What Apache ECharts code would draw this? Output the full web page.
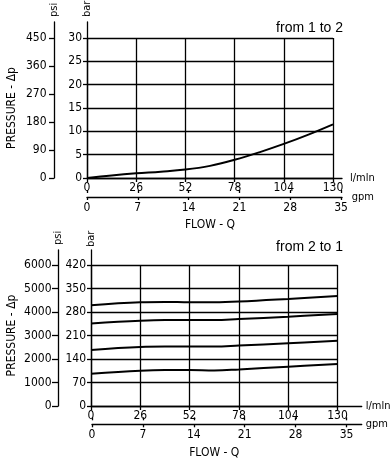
<!DOCTYPE html>
<html><head><meta charset="utf-8">
<script src="https://cdn.jsdelivr.net/npm/echarts@6/dist/echarts.min.js"></script>
<style>html,body{margin:0;padding:0;background:#fff}#c{width:391px;height:463px}</style>
</head><body><div id="c"></div>
<script>
// ---- tick labels ----
const flowTicks = [0, 26, 52, 78, 104, 130];      // l/min
const gpmTicks = [0, 7, 14, 21, 28, 35];          // gpm
const barTicksTop = [0, 5, 10, 15, 20, 25, 30];
const psiTicksTop = [0, 90, 180, 270, 360, 450];
const barTicksBot = [0, 70, 140, 210, 280, 350, 420];
const psiTicksBot = [0, 1000, 2000, 3000, 4000, 5000, 6000];

// ---- data: from 1 to 2 ----
const flowTop = [0, 13, 26, 39, 52, 65, 78, 91, 104, 117, 130];
const dpTop = [0, 0.55, 1.0, 1.35, 1.8, 2.6, 3.9, 5.5, 7.3, 9.3, 11.5];

// ---- data: from 2 to 1 ----
const flowBot = [0, 26, 39, 52, 65, 78, 104, 130];
const dpBot1 = [300, 309, 310, 309, 309, 311, 319, 328];
const dpBot2 = [246, 254, 256, 256, 256, 259, 266, 274];
const dpBot3 = [167, 176, 177, 177, 177, 180, 187, 194.5];
const dpBot4 = [96, 105, 107, 107, 106, 109, 117, 125];

const NARROW = '"Liberation Sans Narrow","DejaVu Sans Condensed","Arial Narrow",sans-serif';
const REG = '"Liberation Sans",Arial,sans-serif';
const BLACK = '#000';
const txt = {color: BLACK, fontSize: 12, fontFamily: NARROW};
const txtS = {color: BLACK, fontSize: 11, fontFamily: NARROW};
const plain = v => String(v);
const line = {show: true, lineStyle: {color: BLACK, width: 1.3}};
const split = {show: true, lineStyle: {color: BLACK, width: 1.3}};
const off = {show: false};

function plotX(nameGap) {
  return {type: 'value', min: 0, max: 130, interval: 26,
    axisLine: off, axisTick: off, axisLabel: off, splitLine: split,
    name: 'FLOW - Q', nameLocation: 'middle', nameGap: nameGap, nameTextStyle: txt};
}
function plotY(max, interval, nameGap) {
  return {type: 'value', min: 0, max: max, interval: interval,
    axisLine: off, axisTick: off, axisLabel: off, splitLine: split,
    name: 'PRESSURE - \u0394p', nameLocation: 'middle', nameGap: nameGap, nameTextStyle: txt};
}
function extX(gridIndex, max, nameGap) {
  return {type: 'value', gridIndex, min: 0, max,
    axisLine: line,
    axisTick: {show: true, length: 4, customValues: flowTicks, lineStyle: {color: BLACK, width: 1.3}},
    axisLabel: {show: true, customValues: flowTicks, margin: 4, formatter: plain, ...txt},
    splitLine: off, name: 'l/mln', nameGap, nameTextStyle: txtS};
}
function gpmX(gridIndex, max, nameGap) {
  return {type: 'value', gridIndex, min: 0, max,
    axisLine: line,
    axisTick: {show: true, length: 3, customValues: gpmTicks, lineStyle: {color: BLACK, width: 1.3}},
    axisLabel: {show: true, customValues: gpmTicks, margin: 5, formatter: plain, ...txt},
    splitLine: off, name: 'gpm', nameGap, nameTextStyle: txtS};
}
function gpmXin(gridIndex, max) {
  return {type: 'value', gridIndex, min: 0, max,
    axisLine: off,
    axisTick: {show: true, inside: true, length: 3, customValues: gpmTicks, lineStyle: {color: BLACK, width: 1.3}},
    axisLabel: off, splitLine: off};
}
function extY(gridIndex, max, ticks, offset, margin, tickLen, name, nameGap) {
  return {type: 'value', gridIndex, min: 0, max, offset, position: 'left',
    axisLine: line,
    axisTick: {show: true, length: tickLen, customValues: ticks, lineStyle: {color: BLACK, width: 1.3}},
    axisLabel: {show: true, customValues: ticks, margin, formatter: plain, ...txt},
    splitLine: off, name, nameRotate: 90, nameGap, nameTextStyle: txtS};
}
function dummyY(gridIndex) {
  return {type: 'value', gridIndex, show: false, min: 0, max: 1};
}
function curve(x, y, xi, yi) {
  return {type: 'line', xAxisIndex: xi, yAxisIndex: yi, data: x.map((f, i) => [f, y[i]]),
    smooth: 0.4, symbol: 'none', lineStyle: {color: BLACK, width: 2}, silent: true};
}

const G = {outerBoundsMode: 'none', containLabel: false};
const option = {
  backgroundColor: '#fff',
  animation: false,
  title: [
    {text: 'from 1 to 2', right: 48, top: 21, padding: 0,
     textStyle: {fontSize: 14, fontWeight: 'normal', fontFamily: REG, color: BLACK}},
    {text: 'from 2 to 1', right: 48, top: 240, padding: 0,
     textStyle: {fontSize: 14, fontWeight: 'normal', fontFamily: REG, color: BLACK}}
  ],
  grid: [
    {left: 87, top: 38, width: 246, height: 140, ...G},
    {left: 87, top: 22, width: 255, height: 156, ...G},
    {left: 87, top: 190, width: 255, height: 7, ...G},
    {left: 91, top: 265, width: 246.5, height: 141, ...G},
    {left: 91, top: 250, width: 270.7, height: 156, ...G},
    {left: 92, top: 417.3, width: 269.7, height: 7, ...G}
  ],
  xAxis: [
    {...plotX(41), gridIndex: 0},
    extX(1, 130 * 255 / 246, 8),
    gpmX(2, 35 * 255 / 254, 8),
    gpmXin(2, 35 * 255 / 254),
    {...plotX(41), gridIndex: 3},
    extX(4, 130 * 270.7 / 246.5, 4),
    gpmX(5, 35 * 269.7 / 254.5, 4),
    gpmXin(5, 35 * 269.7 / 254.5)
  ],
  yAxis: [
    {...plotY(30, 5, 69), gridIndex: 0},
    extY(1, 30 * 156 / 140, barTicksTop, 0, 5, 4, 'bar', 5),
    extY(1, 450 * 156 / 140, psiTicksTop, 33, 7.5, 5, 'psi', 5),
    dummyY(2),
    {...plotY(420, 70, 73), gridIndex: 3},
    extY(4, 420 * 156 / 141, barTicksBot, 0, 5, 4, 'bar', 3),
    extY(4, 6000 * 156 / 141, psiTicksBot, 33, 6.5, 6, 'psi', 5),
    dummyY(5)
  ],
  series: [
    curve(flowTop, dpTop, 0, 0),
    curve(flowBot, dpBot1, 4, 4),
    curve(flowBot, dpBot2, 4, 4),
    curve(flowBot, dpBot3, 4, 4),
    curve(flowBot, dpBot4, 4, 4)
  ]
};
const chart = echarts.init(document.getElementById('c'), null, {renderer: 'canvas'});
chart.setOption(option);
</script>
</body></html>
